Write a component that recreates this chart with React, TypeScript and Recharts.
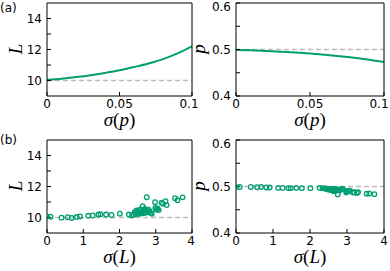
import React from 'react';
import { LineChart, Line, ScatterChart, Scatter, XAxis, YAxis, ReferenceLine } from 'recharts';

// ---- data ----
const CURVE_SIGMA_P = [0, 0.01, 0.02, 0.03, 0.04, 0.05, 0.06, 0.07, 0.08, 0.09, 0.1];
const CURVE_L = [10.05, 10.12, 10.22, 10.34, 10.49, 10.66, 10.87, 11.1, 11.38, 11.75, 12.2];
const CURVE_P = [0.499, 0.4985, 0.497, 0.4953, 0.4935, 0.4912, 0.4887, 0.4857, 0.4822, 0.478, 0.473];

const SCATTER_SIGMA_L = [
  0.0, 0.1, 0.4, 0.57, 0.68, 0.82, 0.91, 1.14, 1.26, 1.42, 1.48, 1.63, 1.78, 2.01, 2.26, 2.34,
  2.4, 2.42, 2.45, 2.47, 2.5, 2.52, 2.55, 2.57, 2.58, 2.6, 2.62, 2.64, 2.65, 2.67, 2.68, 2.7,
  2.72, 2.74, 2.75, 2.77, 2.8, 2.83, 2.86, 2.89, 2.98, 2.99, 3.02, 3.05, 3.08, 3.16, 3.2, 3.27,
  3.3, 3.53, 3.6, 3.74,
];
const SCATTER_L = [
  10.06, 10.05, 9.99, 10.02, 9.97, 10.03, 10.07, 10.11, 10.13, 10.19, 10.21, 10.19, 10.16, 10.25, 10.19, 10.13,
  10.2, 10.35, 10.28, 10.45, 10.22, 10.38, 10.3, 10.5, 10.25, 10.42, 10.33, 10.73, 10.28, 10.48, 10.38, 10.55,
  10.3, 10.45, 11.31, 10.36, 10.5, 10.4, 10.3, 10.25, 10.99, 10.62, 10.52, 10.58, 10.48, 10.95, 10.88, 11.05,
  10.8, 11.25, 11.12, 11.3,
];
const SCATTER_P = [
  0.499, 0.499, 0.499, 0.4985, 0.499, 0.498, 0.498, 0.497, 0.497, 0.4965, 0.4965, 0.497, 0.4965, 0.4965, 0.497, 0.4965,
  0.496, 0.495, 0.4955, 0.494, 0.495, 0.493, 0.4945, 0.493, 0.495, 0.492, 0.494, 0.49, 0.494, 0.492, 0.493, 0.491,
  0.494, 0.4925, 0.483, 0.493, 0.492, 0.4935, 0.494, 0.4945, 0.487, 0.49, 0.4905, 0.49, 0.491, 0.487, 0.4875, 0.486,
  0.488, 0.4845, 0.485, 0.4835,
];

const L_TICKS = [10, 11, 12, 13, 14];
const P_TICKS = [0.4, 0.45, 0.5, 0.55, 0.6];
const SP_TICKS = [0, 0.05, 0.1];
const SL_TICKS = [0, 1, 2, 3, 4];

const GREEN = '#009E73';
const DASH = '#bdbdbd';

const curveL = CURVE_SIGMA_P.map((s, i) => ({ s, v: CURVE_L[i] }));
const curveP = CURVE_SIGMA_P.map((s, i) => ({ s, v: CURVE_P[i] }));
const scatL = SCATTER_SIGMA_L.map((s, i) => ({ s, v: SCATTER_L[i] }));
const scatP = SCATTER_SIGMA_L.map((s, i) => ({ s, v: SCATTER_P[i] }));

const fmtL = (v: number) => (v % 2 === 0 ? String(v) : '');
const fmtP = (v: number) => {
  const r = Math.round(v * 100);
  return r % 10 === 0 ? v.toFixed(1) : '';
};

type AxisCfg = {
  leftW: number; rightW: number; topH: number; bottomH: number;
  xDomain: [number, number]; xTicks: number[]; xLastShift: number;
  yDomain: [number, number]; yTicks: number[]; yFmt: (v: number) => string;
};

const FONT = { fontFamily: 'DejaVu Sans', fontSize: 12, fill: '#000' };

function axes(c: AxisCfg) {
  const line = { stroke: '#000', strokeWidth: 1 };
  const xTick = (p: any) => {
    const v = p.payload.value;
    const dx = v === c.xDomain[1] ? c.xLastShift : 0;
    return <text x={p.x + dx} y={p.y} dy="0.71em" textAnchor="middle" {...FONT}>{String(v)}</text>;
  };
  const yTick = (p: any) => {
    const v = p.payload.value;
    const s = c.yFmt(v);
    const dy = Math.abs(v - c.yDomain[1]) < 1e-9 ? 4 : 0;
    return <text x={p.x} y={p.y + dy} dy="0.355em" textAnchor="end" {...FONT}>{s}</text>;
  };
  return [
    <XAxis key="xb" xAxisId="b" orientation="bottom" type="number" dataKey="s" domain={c.xDomain} ticks={c.xTicks}
      interval={0} allowDataOverflow height={c.bottomH} tickSize={-4} tickMargin={7} tick={xTick}
      axisLine={line} tickLine={line} />,
    <XAxis key="xt" xAxisId="t" orientation="top" type="number" dataKey="s" domain={c.xDomain} ticks={c.xTicks}
      interval={0} allowDataOverflow height={c.topH} tickSize={-4} tick={false} axisLine={line} tickLine={line} />,
    <YAxis key="yl" yAxisId="l" orientation="left" type="number" dataKey="v" domain={c.yDomain} ticks={c.yTicks}
      interval={0} allowDataOverflow width={c.leftW} tickSize={-4} tickMargin={9} tick={yTick}
      axisLine={line} tickLine={line} />,
    <YAxis key="yr" yAxisId="r" orientation="right" type="number" dataKey="v" domain={c.yDomain} ticks={c.yTicks}
      interval={0} allowDataOverflow width={c.rightW} tickSize={-4} tick={false} axisLine={line} tickLine={line} />,
  ];
}

const boxStyle = (left: number, top: number): React.CSSProperties => ({ position: 'absolute', left, top });

const dot = (p: any) => <circle cx={p.cx} cy={p.cy} r={2.3} fill="none" stroke={GREEN} strokeWidth={1.3} />;

export default function App() {
  const mathFont = { fontFamily: 'Liberation Serif', fontSize: 19 } as const;
  return (
    <div style={{ position: 'absolute', left: 0, top: 0, width: 390, height: 271, background: '#fff' }}>
      <style>{'.recharts-surface{overflow:visible}'}</style>
      <div style={boxStyle(0, 0)}>
        <LineChart width={195} height={135} data={curveL} margin={{ top: 0, right: 0, bottom: 0, left: 0 }}>
          {axes({ leftW: 47, rightW: 3, topH: 3, bottomH: 39, xDomain: [0, 0.1], xTicks: SP_TICKS, xLastShift: -3, yDomain: [9, 15], yTicks: L_TICKS, yFmt: fmtL })}
          <ReferenceLine xAxisId="b" yAxisId="l" y={10} stroke={DASH} strokeWidth={1.5} strokeDasharray="5 3" />
          <Line xAxisId="b" yAxisId="l" dataKey="v" type="monotone" stroke={GREEN} strokeWidth={2} dot={false} isAnimationActive={false} />
        </LineChart>
      </div>
      <div style={boxStyle(195, 0)}>
        <LineChart width={195} height={135} data={curveP} margin={{ top: 0, right: 0, bottom: 0, left: 0 }}>
          {axes({ leftW: 41, rightW: 6, topH: 3, bottomH: 39, xDomain: [0, 0.1], xTicks: SP_TICKS, xLastShift: -5, yDomain: [0.4, 0.6], yTicks: P_TICKS, yFmt: fmtP })}
          <ReferenceLine xAxisId="b" yAxisId="l" y={0.5} stroke={DASH} strokeWidth={1.5} strokeDasharray="5 3" />
          <Line xAxisId="b" yAxisId="l" dataKey="v" type="monotone" stroke={GREEN} strokeWidth={2} dot={false} isAnimationActive={false} />
        </LineChart>
      </div>
      <div style={boxStyle(0, 135)}>
        <ScatterChart width={195} height={136} margin={{ top: 0, right: 0, bottom: 0, left: 0 }}>
          {axes({ leftW: 47, rightW: 3, topH: 5, bottomH: 38, xDomain: [0, 4], xTicks: SL_TICKS, xLastShift: -1, yDomain: [9, 15], yTicks: L_TICKS, yFmt: fmtL })}
          <ReferenceLine xAxisId="b" yAxisId="l" y={10} stroke={DASH} strokeWidth={1.5} strokeDasharray="5 3" />
          <Scatter xAxisId="b" yAxisId="l" data={scatL} isAnimationActive={false} shape={dot} />
        </ScatterChart>
      </div>
      <div style={boxStyle(195, 135)}>
        <ScatterChart width={195} height={136} margin={{ top: 0, right: 0, bottom: 0, left: 0 }}>
          {axes({ leftW: 41, rightW: 6, topH: 5, bottomH: 38, xDomain: [0, 4], xTicks: SL_TICKS, xLastShift: 0, yDomain: [0.4, 0.6], yTicks: P_TICKS, yFmt: fmtP })}
          <ReferenceLine xAxisId="b" yAxisId="l" y={0.5} stroke={DASH} strokeWidth={1.5} strokeDasharray="5 3" />
          <Scatter xAxisId="b" yAxisId="l" data={scatP} isAnimationActive={false} shape={dot} />
        </ScatterChart>
      </div>
      <svg width={390} height={271} style={{ position: 'absolute', left: 0, top: 0, pointerEvents: 'none' }}>
        <text x={0} y={12} fontFamily="DejaVu Sans" fontSize={12}>(a)</text>
        <text x={0} y={144} fontFamily="DejaVu Sans" fontSize={12}>(b)</text>
        <text transform="translate(22,49) rotate(-90)" textAnchor="middle" {...mathFont} fontStyle="italic">L</text>
        <text transform="translate(22,186) rotate(-90)" textAnchor="middle" {...mathFont} fontStyle="italic">L</text>
        <text transform="translate(205,49) rotate(-90)" textAnchor="middle" {...mathFont} fontStyle="italic">p</text>
        <text transform="translate(205,186) rotate(-90)" textAnchor="middle" {...mathFont} fontStyle="italic">p</text>
        <text x={119.5} y={126} textAnchor="middle" {...mathFont}><tspan fontStyle="italic">σ</tspan>(<tspan fontStyle="italic">p</tspan>)</text>
        <text x={310} y={126} textAnchor="middle" {...mathFont}><tspan fontStyle="italic">σ</tspan>(<tspan fontStyle="italic">p</tspan>)</text>
        <text x={119.5} y={263} textAnchor="middle" {...mathFont}><tspan fontStyle="italic">σ</tspan>(<tspan fontStyle="italic">L</tspan>)</text>
        <text x={310} y={263} textAnchor="middle" {...mathFont}><tspan fontStyle="italic">σ</tspan>(<tspan fontStyle="italic">L</tspan>)</text>
      </svg>
    </div>
  );
}
